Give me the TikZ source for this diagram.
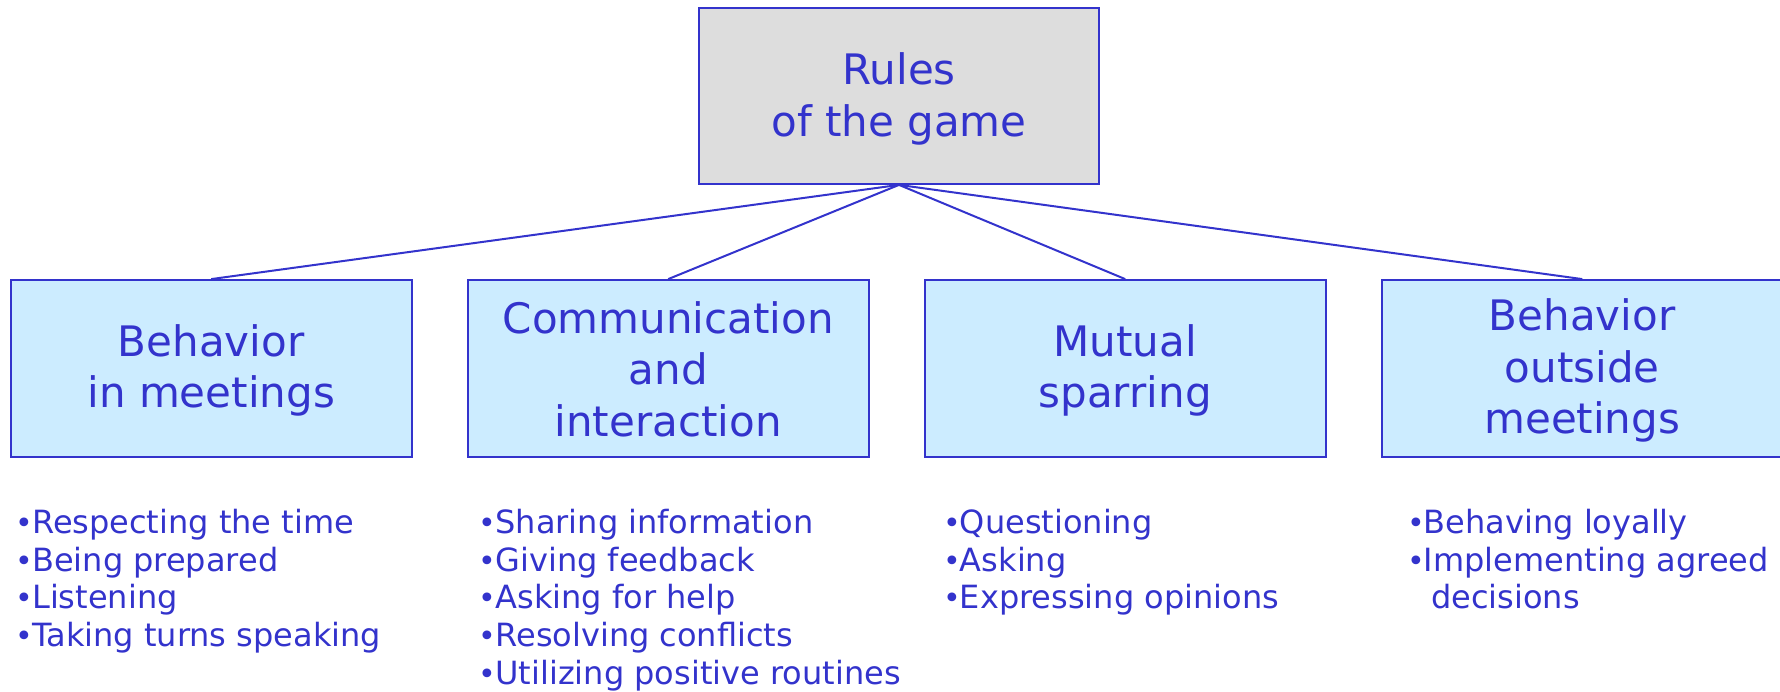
\documentclass[tikz,border=0pt]{standalone}
\usepackage{fontspec}
\setmainfont{DejaVu Sans}
\definecolor{tblue}{RGB}{51,51,204}
\definecolor{bfill}{RGB}{204,236,255}
\definecolor{tgray}{RGB}{221,221,221}
\newcommand\bstrut{\rule[-4pt]{0pt}{40pt}}
\newcommand\tstrut{\rule[-2.2pt]{0pt}{40pt}}
\newcommand\bul{\makebox[0pt][c]{\raisebox{0pt}{\fontsize{30}{30}\selectfont •}}\hspace{7.8pt}}
\begin{document}
\begin{tikzpicture}[x=1pt,y=-1pt,
  box/.style={draw=tblue, line width=1.8pt, fill=bfill, minimum width=401pt,
    minimum height=177pt, align=center, text=tblue, inner sep=0pt,
    font=\fontsize{42}{51.5}\selectfont},
  topbox/.style={box, fill=tgray, minimum width=400pt, minimum height=176pt},
  item/.style={anchor=base west, inner sep=0pt, text=tblue,
    font=\fontsize{32}{37.7}\selectfont},
  link/.style={draw=tblue, line width=2pt}]
\useasboundingbox (0,0) rectangle (1780,692);

\node[topbox] (top) at (899,96) {\tstrut Rules\\\tstrut of the game};

\node[box] (b1) at (211.2,368.5) {\bstrut Behavior\\\bstrut in meetings};
\node[box] (b2) at (668.2,368.5) {\bstrut Communication\\\bstrut and\\\bstrut interaction};
\node[box] (b3) at (1125.2,368.5) {\bstrut Mutual\\\bstrut sparring};
\node[box] (b4) at (1582.2,368.5) {\bstrut Behavior\\\bstrut outside\\\bstrut meetings};

\draw[link] (top.south) -- (b1.north);
\draw[link] (top.south) -- (b2.north);
\draw[link] (top.south) -- (b3.north);
\draw[link] (top.south) -- (b4.north);

% list 1
\node[item] (i11) at (24.2,533.3) {\bul Respecting the time};
\node[item] (i12) at (24.2,571.0) {\bul Being prepared};
\node[item] (i13) at (24.2,608.7) {\bul Listening};
\node[item] (i14) at (24.2,646.4) {\bul Taking turns speaking};
% list 2
\node[item] (i21) at (487.5,533.3) {\bul Sharing information};
\node[item] (i22) at (487.5,571.0) {\bul Giving feedback};
\node[item] (i23) at (487.5,608.7) {\bul Asking for help};
\node[item] (i24) at (487.5,646.4) {\bul Resolving conflicts};
\node[item] (i25) at (487.5,684.1) {\bul Utilizing positive routines};
% list 3
\node[item] (i31) at (951.9,533.3) {\bul Questioning};
\node[item] (i32) at (951.9,571.0) {\bul Asking};
\node[item] (i33) at (951.9,608.7) {\bul Expressing opinions};
% list 4
\node[item] (i41) at (1415.9,533.3) {\bul Behaving loyally};
\node[item] (i42) at (1415.9,571.0) {\bul Implementing agreed};
\node[item] (i43) at (1431.0,608.7) {decisions};
\end{tikzpicture}
\end{document}
